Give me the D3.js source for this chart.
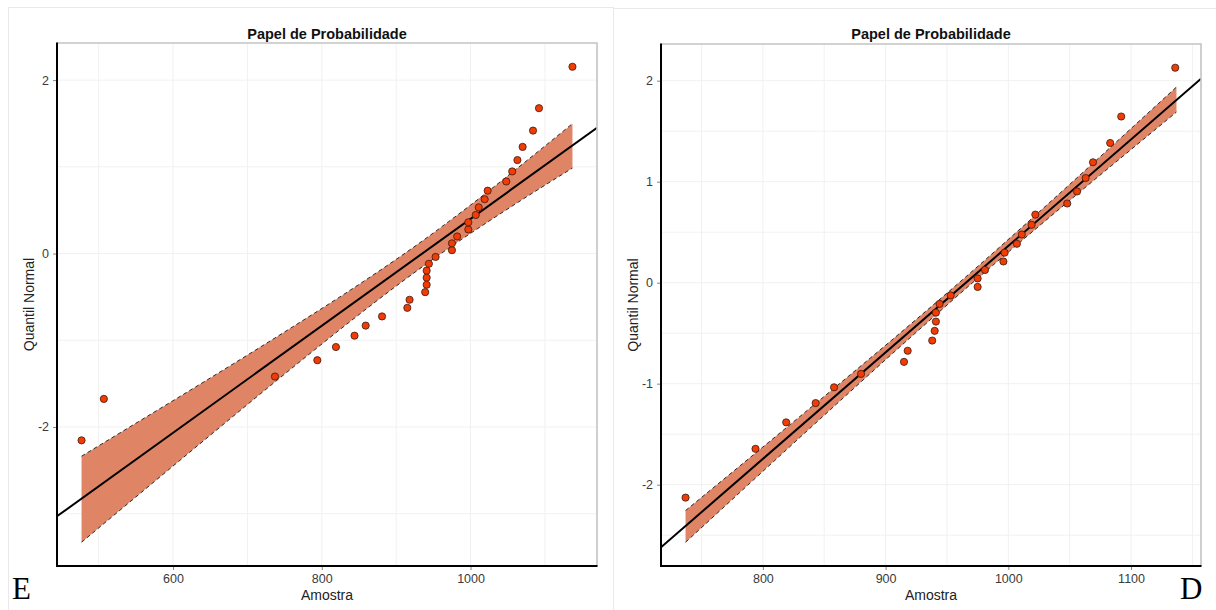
<!DOCTYPE html>
<html>
<head>
<meta charset="utf-8">
<script src="https://cdn.jsdelivr.net/npm/d3@7"></script>
<style>
  body { margin: 0; background: #fff; }
  svg { display: block; }
</style>
</head>
<body>
<svg id="chart" width="1216" height="610"></svg>
<script>
// ---- Sample E (n = 32), sorted, with its normal quantiles ----
const amostraE = [477, 507, 737, 794, 819, 844, 859, 881, 915, 918, 939, 941, 941, 941, 944, 953,
                  975, 975, 982, 997, 997, 1007, 1011, 1019, 1023, 1048, 1056, 1063, 1070, 1084, 1092, 1137];
const quantilE = [-2.154, -1.676, -1.418, -1.230, -1.078, -0.947, -0.831, -0.725, -0.626, -0.533, -0.445, -0.360, -0.278, -0.197, -0.118, -0.039,
                  0.039, 0.118, 0.197, 0.278, 0.360, 0.445, 0.533, 0.626, 0.725, 0.831, 0.947, 1.078, 1.230, 1.418, 1.676, 2.154];
// fitted line and its confidence band
const retaXE = [444, 1170];
const retaYE = [-3.03, 1.45];
const bandaXE = [477, 550, 650, 750, 850, 900, 936, 970, 1000, 1070, 1137];
const bandaInfE = [-3.329, -2.807, -2.095, -1.390, -0.704, -0.375, -0.148, 0.058, 0.233, 0.625, 0.986];
const bandaSupE = [-2.337, -1.957, -1.435, -0.904, -0.356, -0.067, 0.150, 0.365, 0.559, 1.033, 1.498];
const ticksXE = [600, 800, 1000];
const minorXE = [500, 700, 900, 1100];
const ticksYE = [-2, 0, 2];
const minorYE = [-3, -1, 1];

// ---- Sample D (n = 30), sorted, with its normal quantiles ----
const amostraD = [737, 794, 819, 843, 858, 880, 915, 918, 938, 940, 941, 941, 944, 953, 975,
                  975, 981, 996, 997, 1007, 1011, 1019, 1022, 1048, 1056, 1063, 1069, 1083, 1092, 1136];
const quantilD = [-2.128, -1.645, -1.383, -1.192, -1.036, -0.903, -0.784, -0.674, -0.573, -0.477, -0.385, -0.297, -0.210, -0.126, -0.042,
                  0.042, 0.126, 0.210, 0.297, 0.385, 0.477, 0.573, 0.674, 0.784, 0.903, 1.036, 1.192, 1.383, 1.645, 2.128];
const retaXD = [717, 1157];
const retaYD = [-2.62, 2.02];
const bandaXD = [737, 800, 860, 920, 965, 1010, 1060, 1100, 1137];
const bandaInfD = [-2.570, -1.868, -1.202, -0.545, -0.062, 0.406, 0.916, 1.318, 1.689];
const bandaSupD = [-2.256, -1.627, -1.025, -0.415, 0.054, 0.536, 1.083, 1.526, 1.937];
const ticksXD = [800, 900, 1000, 1100];
const minorXD = [750, 850, 950, 1050, 1150];
const ticksYD = [-2, -1, 0, 1, 2];
const minorYD = [-2.5, -1.5, -0.5, 0.5, 1.5];

const titulo = "Papel de Probabilidade";
const rotuloX = "Amostra";
const rotuloY = "Quantil Normal";

const svg = d3.select("#chart");
const FONT = "'Liberation Sans', Arial, Helvetica, sans-serif";

function painel(cfg) {
  const { frame, area, xDom, yDom, id } = cfg;
  // outer frame of the figure
  svg.append("rect")
    .attr("x", frame.x + 0.5).attr("y", frame.y + 0.5)
    .attr("width", frame.w).attr("height", frame.h)
    .attr("fill", "none").attr("stroke", "#e9e9e9").attr("stroke-width", 1);

  const x = d3.scaleLinear().domain(xDom).range([area.x0, area.x1]);
  const y = d3.scaleLinear().domain(yDom).range([area.y1, area.y0]);

  const g = svg.append("g");
  svg.append("clipPath").attr("id", "clip" + id)
    .append("rect").attr("x", area.x0).attr("y", area.y0)
    .attr("width", area.x1 - area.x0).attr("height", area.y1 - area.y0);

  // grid
  const grid = g.append("g").attr("stroke", "#f1f1f1").attr("stroke-width", 1);
  cfg.minorX.concat(cfg.ticksX).forEach(v => {
    grid.append("line").attr("x1", x(v)).attr("x2", x(v)).attr("y1", area.y0).attr("y2", area.y1);
  });
  cfg.minorY.concat(cfg.ticksY).forEach(v => {
    grid.append("line").attr("x1", area.x0).attr("x2", area.x1).attr("y1", y(v)).attr("y2", y(v));
  });

  const inner = g.append("g").attr("clip-path", `url(#clip${id})`);

  // confidence band
  const banda = cfg.bandX.map((v, i) => ({ x: v, lo: cfg.bandLo[i], hi: cfg.bandHi[i] }));
  inner.append("path").datum(banda)
    .attr("d", d3.area().x(d => x(d.x)).y0(d => y(d.lo)).y1(d => y(d.hi)).curve(d3.curveMonotoneX))
    .attr("fill", "#e08466");
  ["lo", "hi"].forEach(k => {
    inner.append("path").datum(banda)
      .attr("d", d3.line().x(d => x(d.x)).y(d => y(d[k])).curve(d3.curveMonotoneX))
      .attr("fill", "none").attr("stroke", "#2a2a2a").attr("stroke-width", 1)
      .attr("stroke-dasharray", "4,3");
  });

  // fitted line
  inner.append("line")
    .attr("x1", x(cfg.lineX[0])).attr("y1", y(cfg.lineY[0]))
    .attr("x2", x(cfg.lineX[1])).attr("y2", y(cfg.lineY[1]))
    .attr("stroke", "#000").attr("stroke-width", 2);

  // sample points
  inner.selectAll("circle.pt").data(cfg.xs.map((v, i) => [v, cfg.ys[i]]))
    .join("circle").attr("class", "pt")
    .attr("cx", d => x(d[0])).attr("cy", d => y(d[1])).attr("r", 3.6)
    .attr("fill", "#f23c05").attr("stroke", "#3a1a10").attr("stroke-width", 0.8);

  // panel border (top / right), axis lines (left / bottom)
  g.append("path")
    .attr("d", `M${area.x0},${area.y0}H${area.x1}V${area.y1}`)
    .attr("fill", "none").attr("stroke", "#c4c4c4").attr("stroke-width", 1.6);

  // axes
  const ax = d3.axisBottom(x).tickValues(cfg.ticksX).tickSize(4).tickPadding(4).tickFormat(d3.format("d"));
  const ay = d3.axisLeft(y).tickValues(cfg.ticksY).tickSize(4).tickPadding(4).tickFormat(d => d3.format("d")(d).replace("−", "-"));
  const gx = g.append("g").attr("transform", `translate(0,${area.y1})`).call(ax);
  const gy = g.append("g").attr("transform", `translate(${area.x0},0)`).call(ay);
  [gx, gy].forEach(a => {
    a.select(".domain").remove();
    a.selectAll(".tick line").attr("stroke", "#666").attr("stroke-width", 0.8);
    a.selectAll(".tick text").attr("fill", "#3a3a3a").style("font-family", FONT).style("font-size", "12.5px");
  });
  g.append("line").attr("x1", area.x0).attr("x2", area.x1 + 0.5).attr("y1", area.y1).attr("y2", area.y1)
    .attr("stroke", "#000").attr("stroke-width", 2);
  g.append("line").attr("x1", area.x0).attr("x2", area.x0).attr("y1", area.y0 - 0.5).attr("y2", area.y1 + 1)
    .attr("stroke", "#000").attr("stroke-width", 2);

  const cx = (area.x0 + area.x1) / 2;
  const cy = (area.y0 + area.y1) / 2;
  g.append("text").attr("x", cx).attr("y", 39).attr("text-anchor", "middle")
    .style("font-family", FONT).style("font-size", "14.5px").style("font-weight", "bold").attr("fill", "#111")
    .text(titulo);
  g.append("text").attr("x", cx).attr("y", 600).attr("text-anchor", "middle")
    .style("font-family", FONT).style("font-size", "14px").attr("fill", "#222")
    .text(rotuloX);
  g.append("text").attr("transform", `translate(${cfg.yLabelX},${cy}) rotate(-90)`).attr("text-anchor", "middle")
    .style("font-family", FONT).style("font-size", "14px").attr("fill", "#222")
    .text(rotuloY);

  // panel letter
  svg.append("text").attr("x", cfg.letter.x).attr("y", 599)
    .style("font-family", "'Liberation Serif', 'Times New Roman', serif").style("font-size", "31px")
    .attr("fill", "#000").text(cfg.letter.t);
}

painel({
  id: "E",
  frame: { x: 8, y: 7, w: 605, h: 620 },
  area: { x0: 57, x1: 597, y0: 43, y1: 566 },
  xDom: [444, 1170], yDom: [-3.603, 2.428],
  xs: amostraE, ys: quantilE,
  lineX: retaXE, lineY: retaYE,
  bandX: bandaXE, bandLo: bandaInfE, bandHi: bandaSupE,
  ticksX: ticksXE, minorX: minorXE, ticksY: ticksYE, minorY: minorYE,
  yLabelX: 34,
  letter: { x: 12, t: "E" }
});

painel({
  id: "D",
  frame: { x: 613, y: 8, w: 620, h: 620 },
  area: { x0: 661, x1: 1201, y0: 44, y1: 566 },
  xDom: [717, 1157], yDom: [-2.805, 2.363],
  xs: amostraD, ys: quantilD,
  lineX: retaXD, lineY: retaYD,
  bandX: bandaXD, bandLo: bandaInfD, bandHi: bandaSupD,
  ticksX: ticksXD, minorX: minorXD, ticksY: ticksYD, minorY: minorYD,
  yLabelX: 638,
  letter: { x: 1180, t: "D" }
});
</script>
</body>
</html>
